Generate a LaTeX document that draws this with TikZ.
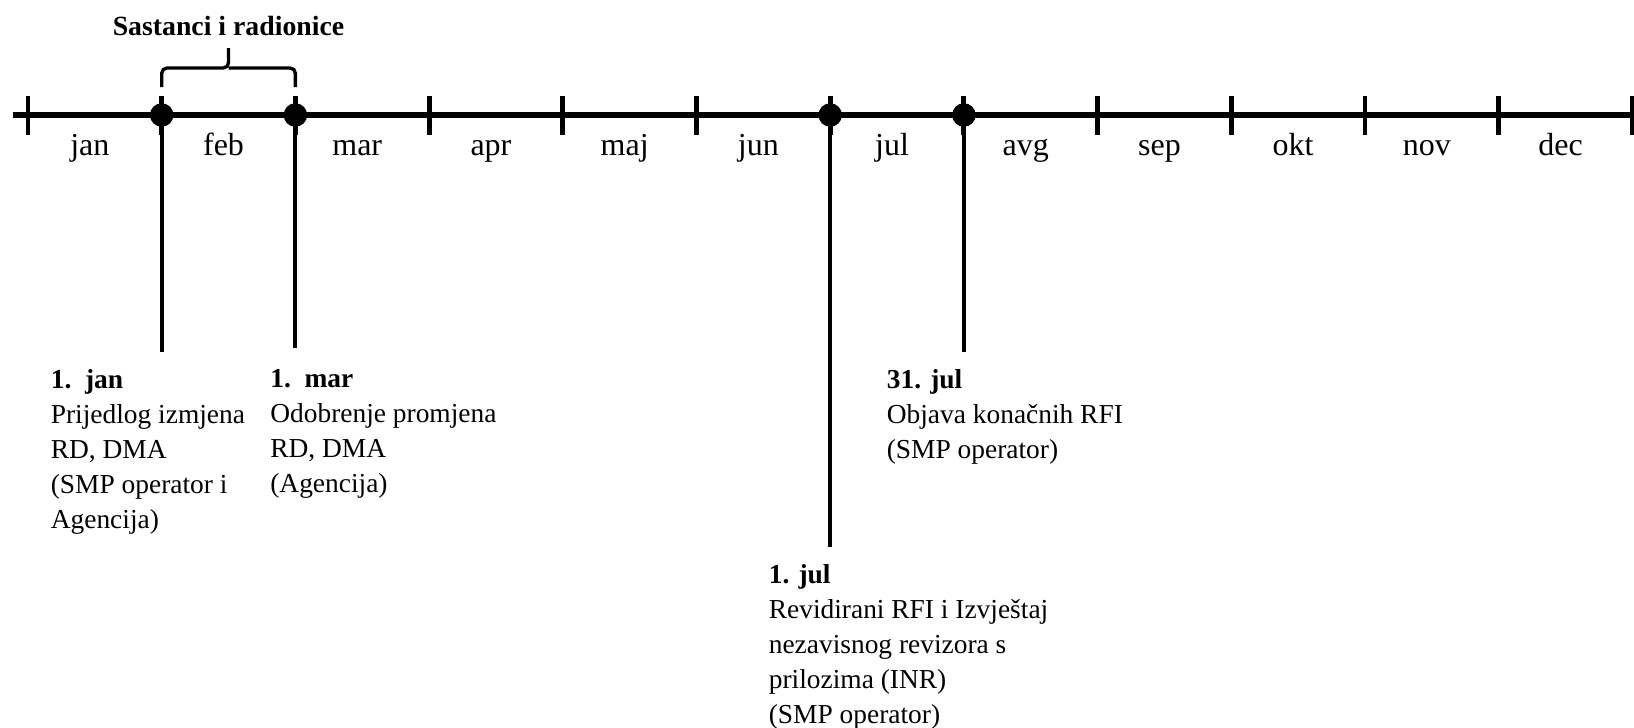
\documentclass[tikz,border=0pt]{standalone}
\usepackage{fontspec}
\setmainfont{Liberation Serif}
\usepackage{tikz}
\usetikzlibrary{calc}

\begin{document}
\begin{tikzpicture}[
	monthlabel/.style={anchor=base, inner sep=0pt, font=\fontsize{18.2}{20}\selectfont},
	eventdot/.style={circle, fill=black, inner sep=0pt, minimum size=0.47cm},
	eventtext/.style={anchor=north west, inner sep=0pt, align=left, font=\fontsize{15.6}{19.9}\selectfont},
	dropline/.style={line width=2.2pt},
	]
	\useasboundingbox (0,0) rectangle (32.68,-14.54);
	% time axis
	\draw[line width=3.4pt] (0.25,-2.3) -- (32.68,-2.3);
	\foreach \i in {0,...,12}
		\draw[line width=2.8pt] ({0.56+2.674*\i},-1.92) -- ({0.56+2.674*\i},-2.7);
	\foreach \m [count=\i from 0] in {jan,feb,mar,apr,maj,jun,jul,avg,sep,okt,nov,dec}
		\node[monthlabel] (m\i) at ({0.56+2.674*\i+1.337-0.1},-3.1) {\m};
	% events on the axis
	\node[eventdot] (djan) at (3.234,-2.3) {};
	\node[eventdot] (dmar) at (5.908,-2.3) {};
	\node[eventdot] (djul) at (16.604,-2.3) {};
	\node[eventdot] (dkraj) at (19.278,-2.3) {};
	\coordinate (ejan) at (3.234,-7.04);
	\coordinate (emar) at (5.908,-6.96);
	\coordinate (ejul) at (16.604,-10.94);
	\coordinate (ekraj) at (19.278,-7.04);
	\draw[dropline] (djan.center) -- (ejan);
	\draw[dropline] (dmar.center) -- (emar);
	\draw[dropline] (djul.center) -- (ejul);
	\draw[dropline] (dkraj.center) -- (ekraj);
	% brace above feb
	\draw[line width=1.9pt, rounded corners=3pt] ($(djan)+(0,0.56)$) |- ($(djan)!0.5!(dmar)+(0,0.94)$) -- ++(0,0.4);
	\draw[line width=1.9pt, rounded corners=3pt] ($(dmar)+(0,0.56)$) |- ($(djan)!0.5!(dmar)+(0,0.94)$);
	\node[anchor=base, inner sep=0pt, font=\fontsize{15.8}{18}\selectfont\bfseries] (sast) at (4.57,-0.7) {Sastanci i radionice};
	% event texts
	\node[eventtext] (tjan) at (1.01,-7.39) {\textbf{1.\ \ jan}\\Prijedlog izmjena\\RD, DMA\\(SMP operator i\\Agencija)};
	\node[eventtext] (tmar) at (5.40,-7.39) {\textbf{1.\ \ mar}\\Odobrenje promjena\\RD, DMA\\(Agencija)};
	\node[eventtext] (tkraj) at (17.73,-7.39) {\textbf{31. jul}\\Objava konačnih RFI\\(SMP operator)};
	\node[eventtext] (tjul) at (15.37,-11.29) {\textbf{1. jul}\\Revidirani RFI i Izvještaj\\nezavisnog revizora s\\prilozima (INR)\\(SMP operator)};
\end{tikzpicture}
\end{document}
